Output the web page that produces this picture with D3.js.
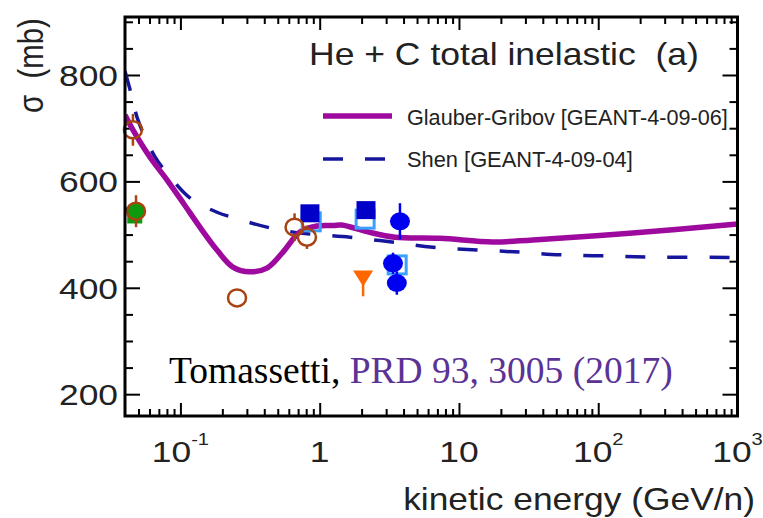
<!DOCTYPE html>
<html>
<head>
<meta charset="utf-8">
<script src="https://cdn.jsdelivr.net/npm/d3@7"></script>
<style>
  html, body { margin: 0; padding: 0; background: #fff; }
  svg { display: block; }
  text { white-space: pre; }
</style>
</head>
<body>
<svg id="chart" width="763" height="518"></svg>
<script>
// He + C total inelastic cross section (mb) versus kinetic energy (GeV/n)

// Glauber-Gribov model curve
const ggEnergy = [0.04, 0.0456, 0.0603, 0.080, 0.105, 0.138, 0.183, 0.238, 0.316, 0.418, 0.545, 0.721, 0.956, 1.25, 1.44, 2.22, 3.47, 7.3, 17.5, 34, 177, 1000];
const ggSigma  = [725, 697, 646, 603, 559, 514, 471, 439, 430, 437, 467, 505, 516, 517, 518, 505, 495, 493, 486, 490, 503, 520];

// Shen parametrisation curve
const shenEnergy = [0.04, 0.0449, 0.0496, 0.0657, 0.080, 0.117, 0.183, 0.247, 0.418, 0.721, 1.65, 3.30, 6.5, 13.5, 27.4, 53, 108, 223, 1000];
const shenSigma  = [807, 759, 715, 646, 616, 569, 542, 531, 514, 503, 495, 486, 476, 471, 467, 462, 460, 458, 457];

// Measurements
const openCircleE   = [0.0456, 0.048, 0.255, 0.66, 0.81];
const openCircleS   = [697, 544, 381, 514, 495];
const openCircleErr = [30, 30, 0, 26, 22];

const greenSquareE = [0.047];
const greenSquareS = [535];
const greenCircleE = [0.048];
const greenCircleS = [544];

const lightSquareE = [0.87, 2.12, 3.6];
const lightSquareS = [524, 529, 443];

const darkSquareE = [0.851, 2.15];
const darkSquareS = [540, 546];

const blueCircleE   = [3.77, 3.36, 3.58];
const blueCircleS   = [525, 446, 409];
const blueCircleErr = [34, 20, 22];

const triangleE     = [2.05];
const triangleS     = [422];
const triangleErrLo = [38];

// Axis ticks
const xMajorTicks = [0.1, 1, 10, 100, 1000];
const xTickLabels = [["10", "-1"], ["1", ""], ["10", ""], ["10", "2"], ["10", "3"]];
const yMajorTicks = [200, 400, 600, 800];
const yMinorTicks = [200, 250, 300, 350, 400, 450, 500, 550, 600, 650, 700, 750, 800, 850, 900];

const legendNames = ["Glauber-Gribov [GEANT-4-09-06]", "Shen [GEANT-4-09-04]"];

// ---------------------------------------------------------------------
const plot = { left: 125, right: 737.5, top: 17, bottom: 416 };
const svg = d3.select("#chart");
const SANS = "'Liberation Sans', Arial, Helvetica, sans-serif";
const INK = "#222";

const x = d3.scaleLog().domain([0.04, 1000]).range([plot.left, plot.right]);
const y = d3.scaleLinear().domain([159, 909]).range([plot.bottom, plot.top]);

const zip = (a, b, c) => a.map((v, i) => ({ e: v, s: b[i], err: c ? c[i] : 0 }));

// text placed at an anchor, optionally squeezed/stretched horizontally to a width
function label(parent, str, px, py, opt) {
  const g = parent.append("g");
  const t = g.append("text")
    .attr("font-family", opt.family || SANS)
    .attr("font-size", opt.size)
    .attr("fill", opt.fill || INK)
    .attr("text-anchor", opt.anchor || "start")
    .attr("dy", opt.dy || null)
    .text(str);
  let sx = opt.sx || 1;
  if (opt.width) sx = opt.width / t.node().getBBox().width;
  g.attr("transform", `translate(${px},${py}) ${opt.rotate ? "rotate(" + opt.rotate + ")" : ""} scale(${sx},${opt.sy || 1})`);
  return t;
}

// clip for curves
svg.append("defs").append("clipPath").attr("id", "plotClip")
  .append("rect")
  .attr("x", plot.left).attr("y", plot.top)
  .attr("width", plot.right - plot.left).attr("height", plot.bottom - plot.top);

// minor log ticks
const xMinorTicks = [];
for (let d = -2; d <= 2; d++) {
  for (let m = 2; m <= 9; m++) {
    const v = m * Math.pow(10, d);
    if (v > 0.0401 && v < 1000) xMinorTicks.push(+v.toPrecision(3));
  }
}

function styleAxis(g) {
  g.select(".domain").remove();
  g.selectAll(".tick line").attr("stroke", "#000").attr("stroke-width", 2);
  g.selectAll(".tick text").remove();
}

const axes = svg.append("g");
axes.append("g").attr("transform", `translate(0,${plot.bottom})`)
  .call(d3.axisBottom(x).tickValues(xMajorTicks).tickSize(-13).tickFormat("")).call(styleAxis);
axes.append("g").attr("transform", `translate(0,${plot.bottom})`)
  .call(d3.axisBottom(x).tickValues(xMinorTicks).tickSize(-7).tickFormat("")).call(styleAxis);
axes.append("g").attr("transform", `translate(0,${plot.top})`)
  .call(d3.axisTop(x).tickValues(xMajorTicks).tickSize(-13).tickFormat("")).call(styleAxis);
axes.append("g").attr("transform", `translate(0,${plot.top})`)
  .call(d3.axisTop(x).tickValues(xMinorTicks).tickSize(-7).tickFormat("")).call(styleAxis);
axes.append("g").attr("transform", `translate(${plot.left},0)`)
  .call(d3.axisLeft(y).tickValues(yMajorTicks).tickSize(-15).tickFormat("")).call(styleAxis);
axes.append("g").attr("transform", `translate(${plot.left},0)`)
  .call(d3.axisLeft(y).tickValues(yMinorTicks.filter(v => !yMajorTicks.includes(v))).tickSize(-8).tickFormat("")).call(styleAxis);
axes.append("g").attr("transform", `translate(${plot.right},0)`)
  .call(d3.axisRight(y).tickValues(yMajorTicks).tickSize(-15).tickFormat("")).call(styleAxis);
axes.append("g").attr("transform", `translate(${plot.right},0)`)
  .call(d3.axisRight(y).tickValues(yMinorTicks.filter(v => !yMajorTicks.includes(v))).tickSize(-8).tickFormat("")).call(styleAxis);

// model curves
const curves = svg.append("g").attr("clip-path", "url(#plotClip)");
const line = d3.line().x(d => x(d.e)).y(d => y(d.s)).curve(d3.curveCatmullRom.alpha(0.5));

curves.append("path").datum(zip(shenEnergy, shenSigma))
  .attr("d", line).attr("fill", "none")
  .attr("stroke", "#16169c").attr("stroke-width", 3.5)
  .attr("stroke-dasharray", "20,22");

curves.append("path").datum(zip(ggEnergy, ggSigma))
  .attr("d", line).attr("fill", "none")
  .attr("stroke", "#9e0a9e").attr("stroke-width", 5.5)
  .attr("stroke-linejoin", "round");

// markers
const marks = svg.append("g");
const SX = 1.06; // markers are slightly wider than tall

// green square + disc
marks.selectAll(".gsq").data(zip(greenSquareE, greenSquareS)).join("rect")
  .attr("x", d => x(d.e) - 7.5).attr("y", d => y(d.s) - 7.5)
  .attr("width", 15).attr("height", 15).attr("fill", "#0c9a0c");
marks.selectAll(".gci").data(zip(greenCircleE, greenCircleS)).join("ellipse")
  .attr("cx", d => x(d.e)).attr("cy", d => y(d.s))
  .attr("rx", 8.5 * SX).attr("ry", 8.5).attr("fill", "#0c9a0c");

// light blue open squares
marks.selectAll(".lsq").data(zip(lightSquareE, lightSquareS)).join("rect")
  .attr("x", d => x(d.e) - 9).attr("y", d => y(d.s) - 9)
  .attr("width", 18).attr("height", 18)
  .attr("fill", "none").attr("stroke", "#3aa0ff").attr("stroke-width", 3);

// dark blue filled squares
marks.selectAll(".dsq").data(zip(darkSquareE, darkSquareS)).join("rect")
  .attr("x", d => x(d.e) - 9.5).attr("y", d => y(d.s) - 9)
  .attr("width", 19).attr("height", 18).attr("fill", "#0000c8");

// blue filled circles with error bars
const blueData = zip(blueCircleE, blueCircleS, blueCircleErr);
marks.selectAll(".bce").data(blueData).join("line")
  .attr("x1", d => x(d.e)).attr("x2", d => x(d.e))
  .attr("y1", d => y(d.s + d.err)).attr("y2", d => y(d.s - d.err))
  .attr("stroke", "#0000f0").attr("stroke-width", 2.5);
marks.selectAll(".bc").data(blueData).join("ellipse")
  .attr("cx", d => x(d.e)).attr("cy", d => y(d.s))
  .attr("rx", 10).attr("ry", 9).attr("fill", "#0000f0");

// orange downward triangle with lower error
const triData = zip(triangleE, triangleS, triangleErrLo);
marks.selectAll(".tre").data(triData).join("line")
  .attr("x1", d => x(d.e)).attr("x2", d => x(d.e))
  .attr("y1", d => y(d.s)).attr("y2", d => y(d.s - d.err))
  .attr("stroke", "#ff6600").attr("stroke-width", 2.5);
marks.selectAll(".tr").data(triData).join("path")
  .attr("transform", d => `translate(${x(d.e)},${y(d.s)})`)
  .attr("d", "M-10,-5.5L10,-5.5L0,10.5Z")
  .attr("fill", "#ff6600");

// brown open circles with error bars drawn outside the marker
const R = 8.5;
const openData = zip(openCircleE, openCircleS, openCircleErr);
const oc = marks.selectAll(".oc").data(openData).join("g");
oc.filter(d => d.err > 0).append("line")
  .attr("x1", d => x(d.e)).attr("x2", d => x(d.e))
  .attr("y1", d => y(d.s + d.err)).attr("y2", d => y(d.s) - R)
  .attr("stroke", "#a84312").attr("stroke-width", 2.5);
oc.filter(d => d.err > 0).append("line")
  .attr("x1", d => x(d.e)).attr("x2", d => x(d.e))
  .attr("y1", d => y(d.s) + R).attr("y2", d => y(d.s - d.err))
  .attr("stroke", "#a84312").attr("stroke-width", 2.5);
oc.append("ellipse")
  .attr("cx", d => x(d.e)).attr("cy", d => y(d.s))
  .attr("rx", R * SX).attr("ry", R)
  .attr("fill", "none").attr("stroke", "#a84312").attr("stroke-width", 2.5);

// frame
svg.append("rect")
  .attr("x", plot.left).attr("y", plot.top)
  .attr("width", plot.right - plot.left).attr("height", plot.bottom - plot.top)
  .attr("fill", "none").attr("stroke", "#000").attr("stroke-width", 3);

// tick labels
const TX = 1.18;
yMajorTicks.forEach(v => label(svg, String(v), 118, y(v), { size: 30, anchor: "end", dy: "0.36em", sx: TX }));

xMajorTicks.forEach((v, i) => {
  const [base, sup] = xTickLabels[i];
  const g = svg.append("g").attr("transform", `translate(${x(v)},462) scale(${TX},1)`);
  const t = g.append("text").attr("font-family", SANS).attr("font-size", 30)
    .attr("fill", INK).attr("text-anchor", "middle");
  t.append("tspan").text(base);
  if (sup) t.append("tspan").attr("font-size", 17).attr("dy", -17).text(sup);
});

// axis titles
label(svg, "kinetic energy (GeV/n)", 755, 510, { size: 32, anchor: "end", width: 352 });
label(svg, "σ  (mb)", 43, 113, { size: 30, rotate: -90, sx: 0.98, sy: 1.15 });

// panel title
label(svg, "He + C total inelastic  (a)", 309, 65, { size: 31, width: 390 });

// legend
svg.append("line").attr("x1", 323).attr("x2", 392).attr("y1", 116).attr("y2", 116)
  .attr("stroke", "#9e0a9e").attr("stroke-width", 5.5);
svg.append("line").attr("x1", 323).attr("x2", 387).attr("y1", 159).attr("y2", 159)
  .attr("stroke", "#16169c").attr("stroke-width", 3.5).attr("stroke-dasharray", "20,22");
label(svg, legendNames[0], 407, 125, { size: 22, width: 321 });
label(svg, legendNames[1], 407, 167, { size: 22, width: 226 });

// citation
const cite = svg.append("text")
  .attr("x", 169).attr("y", 383)
  .attr("font-family", "'Liberation Serif', 'Times New Roman', serif")
  .attr("font-size", 37.5).attr("fill", "#000");
cite.append("tspan").text("Tomassetti, ");
cite.append("tspan").attr("fill", "#5b3396").text("PRD 93, 3005 (2017)");
</script>
</body>
</html>
